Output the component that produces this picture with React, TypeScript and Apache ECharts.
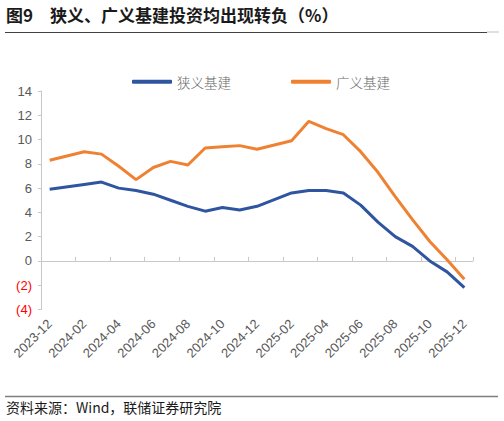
import * as echarts from 'echarts'
import { useEffect, useRef } from 'react'

// 月度数据，1月无单独数据（1-2月合并），用 null 连接
const months = [
  '2023-12', '2024-01', '2024-02', '2024-03', '2024-04', '2024-05', '2024-06',
  '2024-07', '2024-08', '2024-09', '2024-10', '2024-11', '2024-12', '2025-01',
  '2025-02', '2025-03', '2025-04', '2025-05', '2025-06', '2025-07', '2025-08',
  '2025-09', '2025-10', '2025-11', '2025-12'
]
const narrowInfra = [
  5.9, null, 6.3, 6.5, 6.0, 5.8, 5.5, 5.0, 4.5, 4.1, 4.4, 4.2, 4.5, null,
  5.6, 5.8, 5.8, 5.6, 4.6, 3.2, 2.0, 1.2, 0.0, -0.9, -2.2
]
const broadInfra = [
  8.3, null, 9.0, 8.8, 7.8, 6.7, 7.7, 8.2, 7.9, 9.3, 9.4, 9.5, 9.2, null,
  9.9, 11.5, 10.9, 10.4, 9.0, 7.3, 5.3, 3.4, 1.6, 0.1, -1.5
]
const seriesNames = ['狭义基建', '广义基建']
const yMin = -4
const yMax = 14
const yStep = 2

const BLUE = '#2F55A0'
const ORANGE = '#EF8232'
const AXIS_GRAY = '#C8C8C8'
const LABEL_GRAY = '#595959'
const FONT = '"Liberation Sans", Arial, "Noto Sans CJK SC", sans-serif'

function App() {
  const chartRef = useRef<HTMLDivElement>(null)

  useEffect(() => {
    if (!chartRef.current) return
    const chart = echarts.init(chartRef.current, null, { renderer: 'svg' })

    chart.setOption({
      animation: false,
      textStyle: { fontFamily: FONT },
      grid: { left: 41, right: 31, top: 91, bottom: 111.5 },
      legend: {
        left: 132,
        top: 75,
        padding: 0,
        itemGap: 60,
        itemWidth: 40,
        itemHeight: 4,
        icon: 'roundRect',
        data: seriesNames,
        textStyle: {
          fontSize: 13.5,
          color: '#666666',
          fontFamily: '"Noto Sans CJK SC", sans-serif',
          fontWeight: 300
        }
      },
      xAxis: [
        {
          type: 'category',
          data: months,
          position: 'bottom',
          boundaryGap: true,
          axisLine: { show: false, onZero: false },
          axisTick: { show: false },
          axisLabel: {
            interval: 1,
            rotate: 45,
            margin: 12,
            fontSize: 13,
            color: LABEL_GRAY
          }
        },
        {
          // 零轴线与刻度
          type: 'category',
          data: months,
          position: 'bottom',
          boundaryGap: true,
          axisLine: { show: true, onZero: true, lineStyle: { color: AXIS_GRAY, width: 1 } },
          axisTick: {
            show: true,
            inside: true,
            interval: 1,
            length: 4,
            lineStyle: { color: AXIS_GRAY }
          },
          axisLabel: { show: false }
        }
      ],
      yAxis: {
        type: 'value',
        min: yMin,
        max: yMax,
        interval: yStep,
        splitLine: { show: false },
        axisLine: { show: true, lineStyle: { color: AXIS_GRAY, width: 1 } },
        axisTick: { show: true, length: 3, lineStyle: { color: AXIS_GRAY } },
        axisLabel: {
          margin: 9,
          fontSize: 13,
          formatter: (v: number) => (v < 0 ? `(${-v})` : `${v}`),
          color: (v: any) => (Number(v) < 0 ? '#FF0000' : LABEL_GRAY)
        }
      },
      series: [
        {
          name: seriesNames[0],
          type: 'line',
          xAxisIndex: 0,
          data: narrowInfra,
          connectNulls: true,
          showSymbol: false,
          symbol: 'none',
          color: BLUE,
          lineStyle: { width: 3, color: BLUE }
        },
        {
          name: seriesNames[1],
          type: 'line',
          xAxisIndex: 0,
          data: broadInfra,
          connectNulls: true,
          showSymbol: false,
          symbol: 'none',
          color: ORANGE,
          lineStyle: { width: 3, color: ORANGE }
        }
      ],
      graphic: [
        {
          type: 'text',
          left: 6,
          top: 6,
          style: {
            text: '图9　狭义、广义基建投资均出现转负（%）',
            fontSize: 17,
            fontWeight: 'bold',
            fill: '#1a1a1a',
            fontFamily: '"Noto Sans CJK SC", sans-serif'
          }
        },
        {
          type: 'line',
          shape: { x1: 5, y1: 32.5, x2: 487, y2: 32.5 },
          style: { stroke: '#404040', lineWidth: 1 }
        },
        {
          type: 'line',
          shape: { x1: 487, y1: 32, x2: 499, y2: 32 },
          style: { stroke: '#BFBFBF', lineWidth: 1 }
        },
        {
          type: 'line',
          shape: { x1: 5, y1: 396.5, x2: 498, y2: 396.5 },
          style: { stroke: '#7F7F7F', lineWidth: 1.5 }
        },
        {
          type: 'text',
          left: 6,
          top: 400,
          style: {
            text: '资料来源：Wind，联储证券研究院',
            fontSize: 14,
            fill: '#1a1a1a',
            fontFamily: '"Noto Sans CJK SC", "Liberation Sans", sans-serif'
          }
        }
      ]
    })

    return () => {
      chart.dispose()
    }
  }, [])

  return (
    <div
      ref={chartRef}
      style={{ position: 'absolute', left: 0, top: 0, width: 504, height: 421, background: '#fff' }}
    />
  )
}

export default App
